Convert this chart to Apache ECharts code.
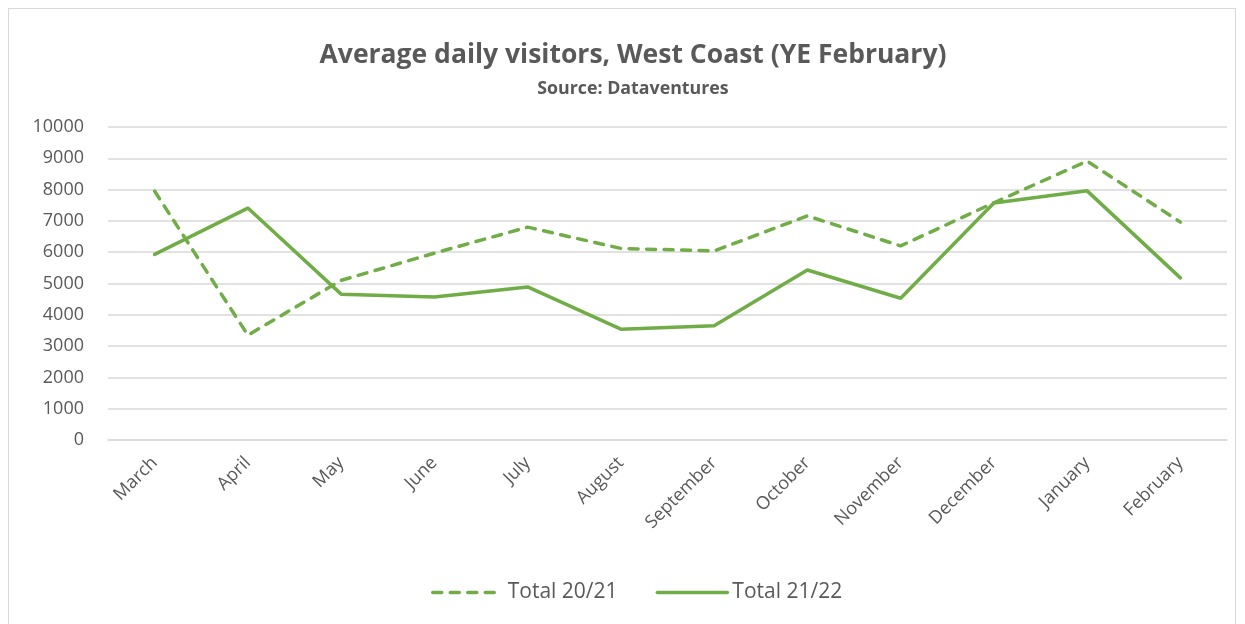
<!DOCTYPE html>
<html>
<head>
<meta charset="utf-8">
<script src="https://cdn.jsdelivr.net/npm/echarts@6/dist/echarts.min.js"></script>
<style>
  html, body { margin: 0; padding: 0; background: #fff; }
  .chart-frame {
    position: absolute;
    left: 8px; top: 8px;
    width: 1228px; height: 630px;
    border: 1px solid #d9d9d9;
    box-sizing: border-box;
  }
  #chart { position: absolute; left: 0; top: 0; width: 1245px; height: 624px; }
</style>
</head>
<body>
<div class="chart-frame"></div>
<div id="chart"></div>
<script>
  // months of the year ending February
  const months = ['March', 'April', 'May', 'June', 'July', 'August', 'September',
    'October', 'November', 'December', 'January', 'February'];
  const total2021 = [7950, 3350, 5100, 5970, 6800, 6120, 6040, 7160, 6200, 7580, 8910, 6960];
  const total2122 = [5930, 7410, 4660, 4570, 4890, 3540, 3650, 5430, 4530, 7570, 7960, 5180];
  const yTicks = { min: 0, max: 10000, interval: 1000 };

  const green = '#70ad47';
  const textColor = '#595959';
  const font = '"Open Sans", "DejaVu Sans", sans-serif';
  const dashed = { color: green, width: 3.5, type: [9, 8.5], cap: 'round' };
  const solid = { color: green, width: 3.5, type: 'solid', cap: 'round' };
  const noMarker = { color: 'rgba(0,0,0,0)', borderWidth: 0, opacity: 0 };

  let chart = echarts.init(document.getElementById('chart'));
  chart.setOption({
    animation: false,
    textStyle: { fontFamily: font },
    title: {
      text: 'Average daily visitors, West Coast (YE February)',
      subtext: 'Source: Dataventures',
      left: 628,
      textAlign: 'center',
      top: 37,
      itemGap: 11,
      textStyle: { fontSize: 26.5, fontWeight: 'bold', color: textColor, fontFamily: font },
      subtextStyle: { fontSize: 17.8, fontWeight: 'bold', color: textColor, fontFamily: font }
    },
    legend: {
      bottom: 16,
      left: 426,
      itemWidth: 70,
      itemHeight: 14,
      itemGap: 38,
      textStyle: { fontSize: 21, color: textColor, fontFamily: font },
      data: [
        { name: 'Total 20/21', lineStyle: dashed, itemStyle: noMarker },
        { name: 'Total 21/22', lineStyle: solid, itemStyle: noMarker }
      ]
    },
    grid: { left: 108, right: 18, top: 127, bottom: 184 },
    xAxis: {
      type: 'category',
      data: months,
      boundaryGap: true,
      axisLine: { show: true, lineStyle: { color: '#d9d9d9', width: 1.5 } },
      axisTick: { show: false },
      axisLabel: { rotate: 45, margin: 20, fontSize: 18, color: textColor, fontFamily: font }
    },
    yAxis: {
      type: 'value',
      min: yTicks.min,
      max: yTicks.max,
      interval: yTicks.interval,
      axisLine: { show: false },
      axisTick: { show: false },
      axisLabel: {
        margin: 24, fontSize: 18, color: textColor, fontFamily: font,
        formatter: function (v) { return String(v); }
      },
      splitLine: { lineStyle: { color: '#d9d9d9', width: 1.5 } }
    },
    series: [
      {
        name: 'Total 20/21',
        type: 'line',
        data: total2021,
        symbol: 'none',
        color: green,
        lineStyle: dashed
      },
      {
        name: 'Total 21/22',
        type: 'line',
        data: total2122,
        symbol: 'none',
        color: green,
        lineStyle: solid
      }
    ]
  });
</script>
</body>
</html>
